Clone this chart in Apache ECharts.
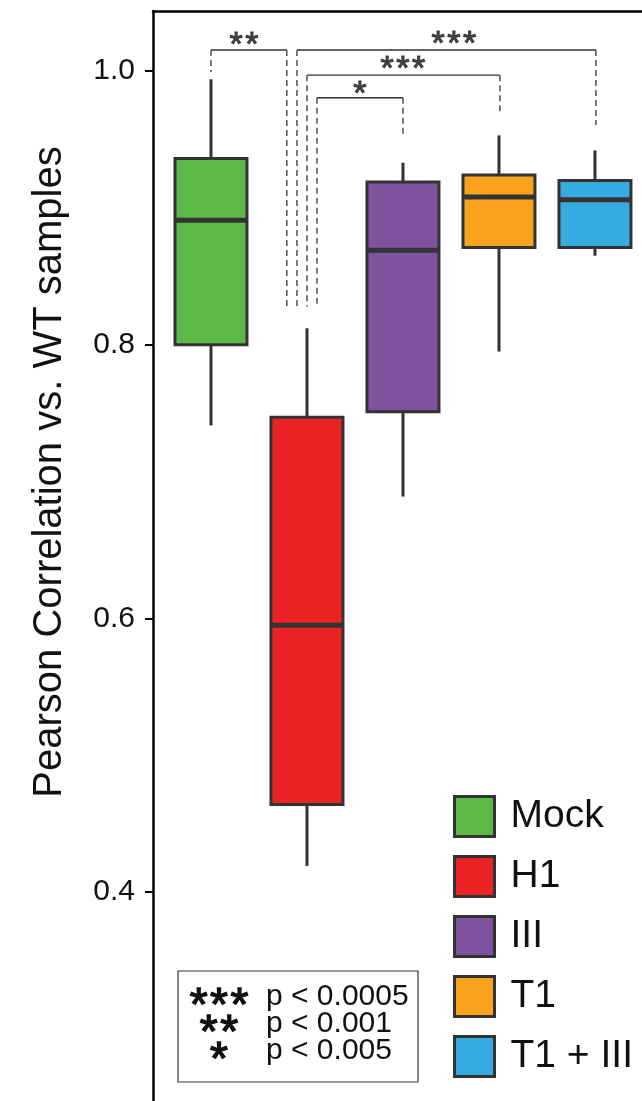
<!DOCTYPE html>
<html>
<head>
<meta charset="utf-8">
<script src="https://cdn.jsdelivr.net/npm/echarts@6/dist/echarts.min.js"></script>
<style>html,body{margin:0;padding:0;background:#fff}#c{width:642px;height:1101px}</style>
</head>
<body>
<div id="c"></div>
<script>
const categories = ['Mock', 'H1', 'III', 'T1', 'T1 + III'];
const colors = ['#5cb947', '#ed2224', '#7f52a0', '#f8a31b', '#35abe1'];
const whiskerLow = [0.741, 0.419, 0.689, 0.795, 0.865];
const q1 = [0.800, 0.464, 0.751, 0.871, 0.871];
const median = [0.891, 0.595, 0.869, 0.908, 0.906];
const q3 = [0.936, 0.747, 0.919, 0.924, 0.920];
const whiskerHigh = [0.994, 0.812, 0.933, 0.953, 0.942];
const yTicks = [0.4, 0.6, 0.8, 1.0];
const sigLabels = ['**', '***', '***', '*'];
const keyStars = ['***', '**', '*'];
const keyTexts = ['p < 0.0005', 'p < 0.001', 'p < 0.005'];

const dark = '#333333';

function spaced(stars) {
  return stars.split('').map(c => '{s|' + c + '}').join('{g| }');
}

function renderBox(params, api) {
  const x = api.value(0);
  const lo = api.coord([x, api.value(1)]);
  const a = api.coord([x, api.value(2)]);
  const m = api.coord([x, api.value(3)]);
  const b = api.coord([x, api.value(4)]);
  const hi = api.coord([x, api.value(5)]);
  const w = api.size([0.75, 0])[0];
  const color = api.visual('color');
  return {
    type: 'group',
    children: [
      {type: 'line', shape: {x1: hi[0], y1: hi[1], x2: b[0], y2: b[1]}, style: {stroke: dark, lineWidth: 3}},
      {type: 'line', shape: {x1: a[0], y1: a[1], x2: lo[0], y2: lo[1]}, style: {stroke: dark, lineWidth: 3}},
      {type: 'rect', shape: {x: b[0] - w / 2, y: b[1], width: w, height: a[1] - b[1]}, style: {fill: color, stroke: dark, lineWidth: 3}},
      {type: 'line', shape: {x1: m[0] - w / 2, y1: m[1], x2: m[0] + w / 2, y2: m[1]}, style: {stroke: dark, lineWidth: 5}}
    ]
  };
}

const series = categories.map((name, i) => ({
  name: name,
  type: 'custom',
  renderItem: renderBox,
  itemStyle: {color: colors[i]},
  encode: {x: 0, y: [1, 2, 3, 4, 5]},
  data: [[i, whiskerLow[i], q1[i], median[i], q3[i], whiskerHigh[i]]],
  z: 3
}));

// significance brackets (annotation): [xLeft, yLeftEnd, xRight, yRightEnd, yLevel]
const brackets = [
  [0, 0.9993, 0.79, 0.8278, 1.0154],
  [0.896, 0.8278, 4.01, 0.9605, 1.0154],
  [1.0, 0.8278, 3.01, 0.9693, 0.997],
  [1.104, 0.8278, 2.0, 0.9532, 0.9805]
];
const starPos = [[0.344, 1.0186], [2.53, 1.0196], [2.0, 1.001], [1.55, 0.983]];

brackets.forEach((b) => {
  series.push({
    type: 'line', silent: true, symbol: 'none', animation: false,
    lineStyle: {color: dark, width: 1.3},
    data: [[b[0], b[4]], [b[2], b[4]]], z: 4
  });
  series.push({
    type: 'line', silent: true, symbol: 'none', animation: false,
    lineStyle: {color: dark, width: 1.3, type: [6, 4]},
    data: [[b[0], b[4]], [b[0], b[1]]], z: 4
  });
  series.push({
    type: 'line', silent: true, symbol: 'none', animation: false,
    lineStyle: {color: dark, width: 1.3, type: [6, 4]},
    data: [[b[2], b[4]], [b[2], b[3]]], z: 4
  });
});
series.push({
  type: 'scatter', silent: true, symbolSize: 0, animation: false,
  label: {show: true, position: 'inside', formatter: (p) => spaced(p.name),
          rich: {
            s: {fontSize: 34, color: '#222', textBorderColor: '#222', textBorderWidth: 1.1, fontFamily: 'Liberation Sans'},
            g: {width: 2.5, fontSize: 34}
          }},
  data: sigLabels.map((s, i) => ({name: s, value: starPos[i]})),
  z: 5
});

const keyChildren = [
  {type: 'rect', shape: {x: 178, y: 971, width: 240, height: 111}, style: {fill: '#fff', stroke: dark, lineWidth: 1.2}}
];
keyStars.forEach((s, i) => {
  keyChildren.push({type: 'text', style: {text: spaced(s), x: 219, y: 1007 + i * 27, align: 'center', verticalAlign: 'middle',
    rich: {
      s: {fontSize: 46, fill: '#111', stroke: '#111', lineWidth: 1.4, fontFamily: 'Liberation Sans'},
      g: {width: 2.5, fontSize: 46}
    }}});
  keyChildren.push({type: 'text', style: {text: keyTexts[i], x: 266, y: 997 + i * 27, align: 'left', verticalAlign: 'middle', fontSize: 30, fill: '#111', fontFamily: 'Liberation Sans'}});
});

const option = {
  animation: false,
  backgroundColor: '#fff',
  textStyle: {fontFamily: 'Liberation Sans'},
  grid: {left: 153, right: 0, top: 11, bottom: 0, containLabel: false},
  xAxis: {
    type: 'value', position: 'top', min: -0.604, max: 4.49,
    axisLine: {show: true, onZero: false, lineStyle: {color: '#000', width: 2.5}},
    axisTick: {show: false}, axisLabel: {show: false}, splitLine: {show: false}
  },
  yAxis: {
    type: 'value', min: 0.2472, max: 1.0439,
    axisLine: {show: true, onZero: false, lineStyle: {color: '#000', width: 2.5}},
    axisTick: {show: true, length: 8, customValues: yTicks, lineStyle: {color: '#000', width: 2}},
    axisLabel: {customValues: yTicks, formatter: (v) => v.toFixed(1), fontSize: 30, color: '#111', margin: 18, fontFamily: 'Liberation Sans'},
    splitLine: {show: false}
  },
  legend: {
    data: categories, orient: 'vertical', left: 448, top: 790,
    itemWidth: 40, itemHeight: 40, itemGap: 17, icon: 'rect',
    itemStyle: {borderColor: dark, borderWidth: 3},
    textStyle: {fontSize: 39, color: '#111', fontFamily: 'Liberation Sans', padding: [0, 0, 0, 11]},
    selectedMode: false
  },
  graphic: [
    {type: 'text', x: 50, y: 472, rotation: Math.PI / 2,
     style: {text: 'Pearson Correlation vs. WT samples', align: 'center', verticalAlign: 'middle', fontSize: 40, fill: '#111', fontFamily: 'Liberation Sans'}},
    {type: 'group', children: keyChildren}
  ],
  series: series
};

const chart = echarts.init(document.getElementById('c'), null, {renderer: 'canvas'});
chart.setOption(option);
</script>
</body>
</html>
